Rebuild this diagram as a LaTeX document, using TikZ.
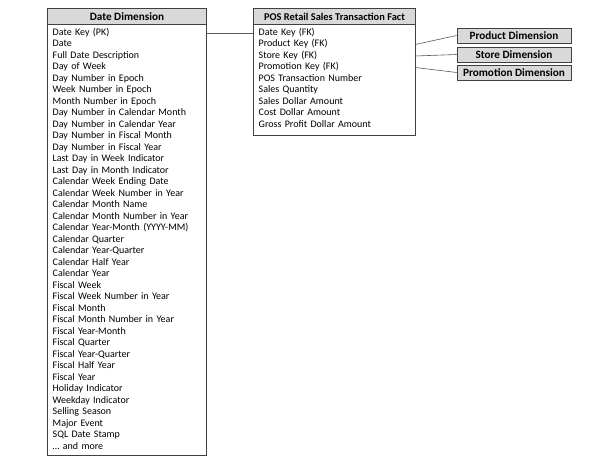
\documentclass[tikz,border=0pt]{standalone}
\usepackage{fontspec}
\setmainfont{Carlito}
\usepackage{xcolor}
\usepackage{tikz}
\usetikzlibrary{positioning}
\definecolor{hdrgray}{gray}{0.85}
\definecolor{boxline}{gray}{0.25}
\definecolor{linkline}{gray}{0.35}

\begin{document}
\begin{tikzpicture}[
    x=1pt, y=-1pt,
    hdr/.style={rectangle, draw=boxline, fill=hdrgray, line width=0.9pt, inner sep=0pt, minimum height=16.5pt, font=\fontsize{11.2}{12}\selectfont\bfseries},
    dim/.style={hdr, minimum width=114pt, minimum height=15pt},
    row/.style={rectangle, inner xsep=5.5pt, inner ysep=0pt, text height=6.8pt, text depth=2pt, align=left, font=\fontsize{10}{11}\selectfont},
    frame/.style={draw=boxline, line width=0.9pt},
    link/.style={draw=linkline, line width=0.6pt},
]
\useasboundingbox (0,0) rectangle (606,462);

% Date dimension
\node[hdr, minimum width=159pt, anchor=north west] (dhead) at (47,8) {Date Dimension};
\foreach \txt [count=\i] in {Date Key (PK), Date, Full Date Description, Day of Week,
    Day Number in Epoch, Week Number in Epoch, Month Number in Epoch,
    Day Number in Calendar Month, Day Number in Calendar Year,
    Day Number in Fiscal Month, Day Number in Fiscal Year,
    Last Day in Week Indicator, Last Day in Month Indicator,
    Calendar Week Ending Date, Calendar Week Number in Year,
    Calendar Month Name, Calendar Month Number in Year,
    Calendar Year-Month (YYYY-MM), Calendar Quarter, Calendar Year-Quarter,
    Calendar Half Year, Calendar Year, Fiscal Week, Fiscal Week Number in Year,
    Fiscal Month, Fiscal Month Number in Year, Fiscal Year-Month,
    Fiscal Quarter, Fiscal Year-Quarter, Fiscal Half Year, Fiscal Year,
    Holiday Indicator, Weekday Indicator, Selling Season, Major Event,
    SQL Date Stamp, \dots\ and more}
    \node[row, text width=148pt, anchor=west] (d\i) at (47,{21.5+11.5*\i}) {\txt};
\draw[frame] (dhead.north west) rectangle (d37.east |- 0,455);

% Fact table
\node[hdr, minimum width=162pt, anchor=north west, font=\fontsize{10.4}{11}\selectfont\bfseries] (fhead) at (253,8) {POS Retail Sales Transaction Fact};
\foreach \txt [count=\i] in {Date Key (FK), Product Key (FK), Store Key (FK),
    Promotion Key (FK), POS Transaction Number, Sales Quantity,
    Sales Dollar Amount, Cost Dollar Amount, Gross Profit Dollar Amount}
    \node[row, text width=151pt, anchor=west] (f\i) at (253,{21.5+11.5*\i}) {\txt};
\draw[frame] (fhead.north west) rectangle (f9.east |- 0,135);

% Other dimensions
\node[dim] (prod) at (514,35.5) {Product Dimension};
\node[dim] (store) at (514,54.5) {Store Dimension};
\node[dim] (promo) at (514,72.5) {Promotion Dimension};

% Joins
\draw[link] (d1.east) -- (f1.west);
\draw[link] (f2.east) -- (prod.west);
\draw[link] (f3.east) -- (store.west);
\draw[link] (f4.east) -- (promo.west);

\end{tikzpicture}
\end{document}
